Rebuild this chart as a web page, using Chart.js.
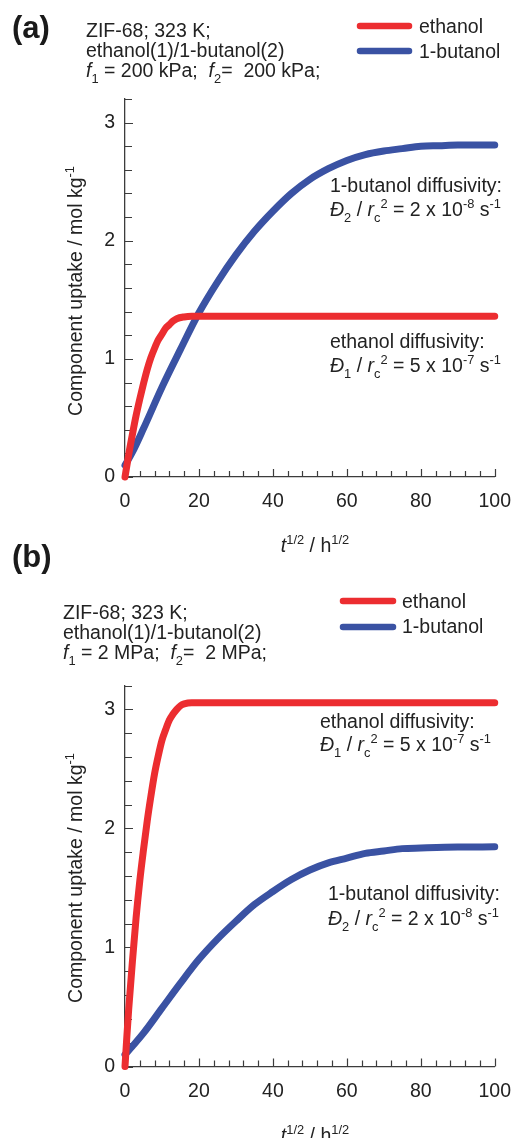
<!DOCTYPE html>
<html><head><meta charset="utf-8">
<script src="https://cdn.jsdelivr.net/npm/chart.js@4.4.1/dist/chart.umd.min.js"></script>
<style>
html,body{margin:0;padding:0;background:#fff;}
#wrap{position:relative;width:524px;height:1138px;overflow:hidden;background:#fff;}
canvas{position:absolute;left:0;}
</style></head><body>
<div id="wrap">
<canvas id="ca" width="524" height="560" style="top:0;width:524px;height:560px"></canvas>
<canvas id="cb" width="524" height="598" style="top:540px;width:524px;height:598px"></canvas>
</div>
<script>
// ---------------- data ----------------
const seriesNames = ['ethanol', '1-butanol'];
const xTickValues = [0, 20, 40, 60, 80, 100];
const yTickValues = [0, 1, 2, 3];

// panel (a): f1 = f2 = 200 kPa
const aEthanolX = [0, 1, 2, 3, 4, 5, 6, 7, 8, 9, 10, 11, 12, 13, 14, 16, 18, 20, 30, 40, 50, 60, 70, 80, 90, 100];
const aEthanolY = [0, 0.19, 0.36, 0.52, 0.66, 0.79, 0.91, 1.01, 1.09, 1.16, 1.21, 1.26, 1.29, 1.32, 1.34, 1.355, 1.36, 1.36, 1.36, 1.36, 1.36, 1.36, 1.36, 1.36, 1.36, 1.36];
const aButanolX = [0, 2, 5, 10, 15, 20, 25, 30, 35, 40, 45, 50, 55, 60, 65, 70, 75, 80, 85, 90, 100];
const aButanolY = [0.10, 0.21, 0.41, 0.76, 1.08, 1.39, 1.65, 1.88, 2.08, 2.25, 2.40, 2.52, 2.61, 2.68, 2.73, 2.76, 2.78, 2.80, 2.805, 2.81, 2.81];

// panel (b): f1 = f2 = 2 MPa
const bEthanolX = [0, 0.5, 1, 2, 3, 4, 5, 6, 7, 8, 9, 10, 11, 12, 13, 14, 15, 16, 18, 20, 30, 40, 50, 60, 70, 80, 90, 100];
const bEthanolY = [0, 0.25, 0.48, 0.88, 1.25, 1.56, 1.82, 2.06, 2.27, 2.46, 2.61, 2.74, 2.83, 2.91, 2.96, 3.0, 3.03, 3.045, 3.055, 3.055, 3.055, 3.055, 3.055, 3.055, 3.055, 3.055, 3.055, 3.055];
const bButanolX = [0, 2, 5, 10, 15, 20, 25, 30, 35, 40, 45, 50, 55, 60, 65, 70, 75, 80, 90, 100];
const bButanolY = [0.10, 0.17, 0.28, 0.49, 0.70, 0.90, 1.07, 1.22, 1.36, 1.47, 1.57, 1.65, 1.71, 1.75, 1.79, 1.81, 1.83, 1.835, 1.843, 1.845];

// ---------------- styling ----------------
const FAM = '"Liberation Sans", Arial, Helvetica, sans-serif';
const FS = 19.5;
const TXT = '#222';
const AXIS = '#3c3c3c';
const RED = '#ec2d30';
const BLUE = '#3a52a3';
const COLORS = [RED, BLUE];
const X_MINOR = 4, Y_MINOR = 0.2;

Chart.defaults.font.family = FAM;
Chart.defaults.color = TXT;

function pts(xs, ys) { return xs.map((x, i) => ({ x: x, y: ys[i] })); }

function rich(ctx, x, y, segs, fs) {
  let cx = x;
  for (const s of segs) {
    const small = s.v === 'sub' || s.v === 'sup';
    const size = small ? fs * 0.66 : fs;
    ctx.font = (s.it ? 'italic ' : '') + size + 'px ' + FAM;
    const dy = s.v === 'sub' ? fs * 0.30 : (s.v === 'sup' ? -fs * 0.42 : 0);
    ctx.fillText(s.t, cx, y + dy);
    cx += ctx.measureText(s.t).width;
  }
  return cx - x;
}
function richWidth(ctx, segs, fs) {
  let w = 0;
  for (const s of segs) {
    const small = s.v === 'sub' || s.v === 'sup';
    const size = small ? fs * 0.66 : fs;
    ctx.font = (s.it ? 'italic ' : '') + size + 'px ' + FAM;
    w += ctx.measureText(s.t).width;
  }
  return w;
}

function noteLines(idx, coef, exp) {
  return [
    [{ t: seriesNames[idx] + ' diffusivity:' }],
    [{ t: 'Đ', it: true }, { t: String(idx + 1), v: 'sub' }, { t: ' / ' }, { t: 'r', it: true }, { t: 'c', v: 'sub' }, { t: '2', v: 'sup' },
     { t: ' = ' + coef + ' x 10' }, { t: exp, v: 'sup' }, { t: ' s' }, { t: '-1', v: 'sup' }]
  ];
}

function makePanel(canvasId, L, ethX, ethY, butX, butY) {
  const top = L.canvasTop;
  const textPlugin = {
    id: 'txt',
    beforeDatasetsDraw(chart) {
      const { ctx, chartArea: ca, scales: { x, y } } = chart;
      ctx.save();
      ctx.strokeStyle = AXIS; ctx.lineWidth = 1.2;
      ctx.beginPath();
      for (let k = 0; k <= Math.round(100 / X_MINOR); k++) {
        const v = k * X_MINOR;
        const px = Math.round(x.getPixelForValue(v)) + 0.5;
        const len = (v % 20 === 0) ? 8 : 6;
        ctx.moveTo(px, ca.bottom); ctx.lineTo(px, ca.bottom - len);
      }
      for (let k = 0; k <= Math.round(3.2 / Y_MINOR); k++) {
        const v = k * Y_MINOR;
        const py = Math.round(y.getPixelForValue(v)) + 0.5;
        const len = (Math.abs(v - Math.round(v)) < 1e-6) ? 8 : 7;
        ctx.moveTo(ca.left, py); ctx.lineTo(ca.left + len, py);
      }
      ctx.stroke();
      ctx.restore();
    },
    afterDraw(chart) {
      const ctx = chart.ctx;
      ctx.save();
      ctx.fillStyle = TXT;
      ctx.textBaseline = 'alphabetic';
      ctx.textAlign = 'left';
      // panel tag
      ctx.font = 'bold 31px ' + FAM;
      ctx.fillStyle = '#1a1a1a';
      ctx.fillText(L.tag.text, L.tag.x, L.tag.y - top);
      ctx.fillStyle = TXT;
      // info block
      rich(ctx, L.info.x, L.info.ys[0] - top, [{ t: 'ZIF-68; 323 K;' }], FS);
      rich(ctx, L.info.x, L.info.ys[1] - top, [{ t: 'ethanol(1)/1-butanol(2)' }], FS);
      rich(ctx, L.info.x, L.info.ys[2] - top, [{ t: 'f', it: true }, { t: '1', v: 'sub' }, { t: ' = ' + L.press + ';  ' },
        { t: 'f', it: true }, { t: '2', v: 'sub' }, { t: '=  ' + L.press + ';' }], FS);
      // legend
      chart.data.datasets.forEach((ds, i) => {
        ctx.strokeStyle = ds.borderColor; ctx.lineWidth = 6.5; ctx.lineCap = 'round';
        ctx.beginPath();
        ctx.moveTo(L.legend.x1, L.legend.ys[i] - top); ctx.lineTo(L.legend.x2, L.legend.ys[i] - top);
        ctx.stroke();
        ctx.font = FS + 'px ' + FAM;
        ctx.fillText(ds.label, L.legend.tx, L.legend.tys[i] - top);
      });
      // annotations
      L.notes.forEach(n => {
        const lines = noteLines(n.which, n.coef, n.exp);
        rich(ctx, n.x, n.ys[0] - top, lines[0], FS);
        rich(ctx, n.x, n.ys[1] - top, lines[1], FS);
      });
      // y title
      const ySegs = [{ t: 'Component uptake / mol kg' }, { t: '-1', v: 'sup' }];
      ctx.save();
      ctx.translate(L.yTitle.x, L.yTitle.y - top);
      ctx.rotate(-Math.PI / 2);
      const yw = richWidth(ctx, ySegs, FS);
      rich(ctx, -yw / 2, 0, ySegs, FS);
      ctx.restore();
      // x title
      const xSegs = [{ t: 't', it: true }, { t: '1/2', v: 'sup' }, { t: ' / h' }, { t: '1/2', v: 'sup' }];
      const xw = richWidth(ctx, xSegs, FS);
      rich(ctx, L.xTitle.x - xw / 2, L.xTitle.y - top, xSegs, FS);
      ctx.restore();
    }
  };

  const ds = (label, data, color) => ({
    label: label, data: data, borderColor: color, backgroundColor: color,
    borderWidth: 7, pointRadius: 0, fill: false, cubicInterpolationMode: 'monotone',
    borderCapStyle: 'round', borderJoinStyle: 'round', clip: false
  });

  return new Chart(document.getElementById(canvasId), {
    type: 'line',
    data: {
      datasets: [ds(seriesNames[0], pts(ethX, ethY), COLORS[0]), ds(seriesNames[1], pts(butX, butY), COLORS[1])]
    },
    options: {
      responsive: false, animation: false, devicePixelRatio: 1,
      layout: { padding: { top: L.plotTop - top, right: 524 - L.plotRight, left: 0, bottom: 0 } },
      plugins: { legend: { display: false }, tooltip: { enabled: false } },
      scales: {
        x: {
          type: 'linear', min: 0, max: 100,
          afterBuildTicks: s => { s.ticks = xTickValues.map(v => ({ value: v })); },
          afterFit: s => { s.height = L.canvasH - (L.plotBottom - top); },
          grid: { display: false, drawTicks: false },
          border: { display: true, color: AXIS, width: 1.3 },
          ticks: { color: TXT, font: { size: FS }, padding: 13, maxRotation: 0, autoSkip: false }
        },
        y: {
          type: 'linear', min: 0, max: 3.2,
          afterBuildTicks: s => { s.ticks = yTickValues.map(v => ({ value: v })); },
          afterFit: s => { s.width = 125; },
          grid: { display: false, drawTicks: false },
          border: { display: true, color: AXIS, width: 1.3 },
          ticks: { color: TXT, font: { size: FS }, padding: 10 }
        }
      }
    },
    plugins: [textPlugin]
  });
}

const layoutA = {
  canvasTop: 0, canvasH: 560, plotTop: 99, plotBottom: 477, plotRight: 506, press: '200 kPa',
  tag: { text: '(a)', x: 12, y: 38 },
  info: { x: 86, ys: [37, 57, 77] },
  legend: { x1: 360, x2: 409, ys: [26, 51], tx: 419, tys: [33, 58] },
  notes: [{ x: 330, ys: [192, 216], which: 1, coef: '2', exp: '-8' }, { x: 330, ys: [348, 372], which: 0, coef: '5', exp: '-7' }],
  yTitle: { x: 82, y: 291 }, xTitle: { x: 315, y: 552 }
};
const layoutB = {
  canvasTop: 540, canvasH: 598, plotTop: 685.5, plotBottom: 1066.5, plotRight: 506, press: '2 MPa',
  tag: { text: '(b)', x: 12, y: 567 },
  info: { x: 63, ys: [619, 639, 659] },
  legend: { x1: 343, x2: 393, ys: [601, 627], tx: 402, tys: [608, 633] },
  notes: [{ x: 320, ys: [728, 751], which: 0, coef: '5', exp: '-7' }, { x: 328, ys: [900, 925], which: 1, coef: '2', exp: '-8' }],
  yTitle: { x: 82, y: 878 }, xTitle: { x: 315, y: 1142 }
};

makePanel('ca', layoutA, aEthanolX, aEthanolY, aButanolX, aButanolY);
makePanel('cb', layoutB, bEthanolX, bEthanolY, bButanolX, bButanolY);
</script>
</body></html>
